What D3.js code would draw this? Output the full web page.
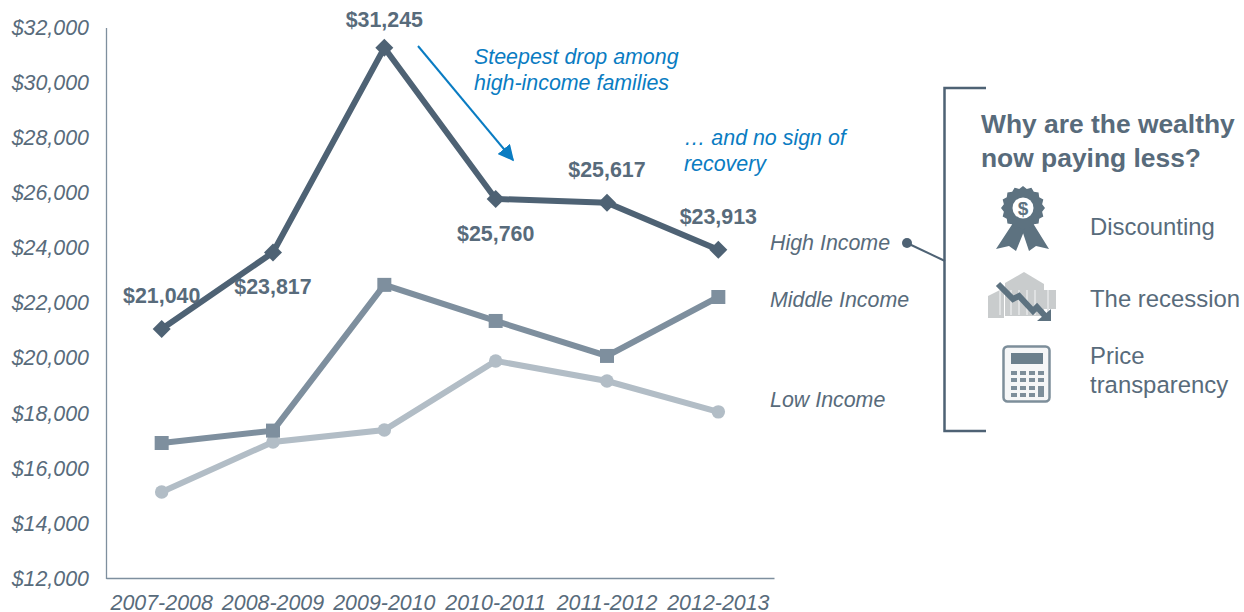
<!DOCTYPE html>
<html>
<head>
<meta charset="utf-8">
<script src="https://cdn.jsdelivr.net/npm/d3@7/dist/d3.min.js"></script>
<style>
html,body{margin:0;padding:0;background:#fff}
text{font-family:"Liberation Sans",Arial,sans-serif}
</style>
</head>
<body>
<svg id="chart" width="1244" height="612"></svg>
<script>
// Average spend per family by income band, academic years 2007-08 to 2012-13
const years = ["2007-2008","2008-2009","2009-2010","2010-2011","2011-2012","2012-2013"];
const highIncome = [21040,23817,31245,25760,25617,23913];
const middleIncome = [16900,17350,22640,21330,20060,22200];
const lowIncome = [15120,16940,17370,19880,19150,18030];
const yTicks = [12000,14000,16000,18000,20000,22000,24000,26000,28000,30000,32000];
const highLabelOffsets = [[0,-26],[0,42],[0,-21],[0,42],[0,-26],[0,-26]];
const reasons = ["Discounting","The recession"];

const DARK="#4e6274", MID="#7e8f9e", LIGHT="#b2bdc6", TEXT="#586b7b", BLUE="#0a7cc2";
const ITALIC_SIZE=21.4;

const svg=d3.select("#chart");
const x=d3.scaleBand().domain(years).range([106,774]);
const cx=d=>x(d)+x.bandwidth()/2;
const y=d3.scaleLinear().domain([12000,32000]).range([578,27]);

// Axes
const yAxis=svg.append("g").attr("transform","translate(106,0.5)")
  .call(d3.axisLeft(y).tickValues(yTicks).tickSize(0).tickPadding(17).tickFormat(d3.format("$,")));
const xAxis=svg.append("g").attr("transform","translate(0,578)")
  .call(d3.axisBottom(x).tickSize(0).tickPadding(17));
[yAxis,xAxis].forEach(a=>{
  a.selectAll("path").attr("stroke",MID).attr("stroke-width",1.3);
  a.selectAll("text").attr("fill",TEXT).style("font-size",ITALIC_SIZE+"px").style("font-style","italic")
   .style("font-family",'"Liberation Sans",Arial,sans-serif');
});

// Income series
const line=d3.line().x((d,i)=>cx(years[i])).y(d=>y(d));
function drawSeries(vals,color,width,symbol,size){
  svg.append("path").attr("d",line(vals)).attr("fill","none").attr("stroke",color)
    .attr("stroke-width",width).attr("stroke-linejoin","miter");
  svg.append("g").selectAll("path").data(vals).join("path")
    .attr("d",d3.symbol(symbol,size))
    .attr("transform",(d,i)=>`translate(${cx(years[i])},${y(d)})`+(symbol===d3.symbolSquare&&color===DARK?" rotate(45)":""))
    .attr("fill",color);
}
drawSeries(lowIncome,LIGHT,6,d3.symbolCircle,143);
drawSeries(middleIncome,MID,6,d3.symbolSquare,196);
drawSeries(highIncome,DARK,6,d3.symbolSquare,162);

// Value labels on the high-income line
svg.append("g").selectAll("text").data(highIncome).join("text")
  .attr("x",(d,i)=>cx(years[i])+highLabelOffsets[i][0])
  .attr("y",(d,i)=>y(d)+highLabelOffsets[i][1])
  .attr("text-anchor","middle").attr("fill",TEXT)
  .attr("font-size",21.4).attr("font-weight","bold")
  .text(d3.format("$,"));

// Series names
[["High Income",highIncome],["Middle Income",middleIncome],["Low Income",lowIncome]].forEach(([name],i)=>{
  svg.append("text").attr("x",770).attr("y",[250,307,407][i])
    .attr("font-size",ITALIC_SIZE).attr("font-style","italic").attr("fill",TEXT).text(name);
});

// Blue callouts
svg.append("defs").append("marker").attr("id","head").attr("viewBox","0 0 10 10")
  .attr("refX",9).attr("refY",5).attr("markerWidth",8).attr("markerHeight",8)
  .attr("orient","auto").attr("markerUnits","strokeWidth")
  .append("path").attr("d","M0,0L10,5L0,10Z").attr("fill",BLUE);
svg.append("line").attr("x1",418).attr("y1",46).attr("x2",513).attr("y2",160)
  .attr("stroke",BLUE).attr("stroke-width",2).attr("marker-end","url(#head)");
[["Steepest drop among",474,64],["high-income families",474,90],["… and no sign of",684,145],["recovery",684,171]]
  .forEach(([t,tx,ty])=>svg.append("text").attr("x",tx).attr("y",ty).attr("fill",BLUE)
    .attr("font-size",ITALIC_SIZE).attr("font-style","italic").text(t));

// Bracket and leader from the high-income label
svg.append("path").attr("d","M986,88H944.5V431H986").attr("fill","none").attr("stroke",DARK).attr("stroke-width",2.5);
svg.append("circle").attr("cx",907).attr("cy",243).attr("r",5).attr("fill",DARK);
svg.append("line").attr("x1",907).attr("y1",243).attr("x2",945).attr("y2",261).attr("stroke",DARK).attr("stroke-width",2);

// Side panel text
[["Why are the wealthy",133],["now paying less?",167]].forEach(([t,ty])=>
  svg.append("text").attr("x",981).attr("y",ty).attr("fill",TEXT).attr("font-size",26.4).attr("font-weight","bold").text(t));
[[reasons[0],235],[reasons[1],307],["Price",364],["transparency",393]].forEach(([t,ty])=>
  svg.append("text").attr("x",1090).attr("y",ty).attr("fill",TEXT).attr("font-size",23.9).text(t));

// Rosette icon
const ros=svg.append("g").attr("transform","translate(1023,208)").attr("fill","#5d7280");
ros.append("path").attr("d","M-8,12L-27,41L-14,38L-7,43L4,16Z");
ros.append("path").attr("d","M8,12L26,41L13,38L6,43L-3,16Z");
const teeth=d3.range(32).map(i=>{const r=i%2?19.5:22,a=i*Math.PI/16;return [r*Math.cos(a),r*Math.sin(a)];});
ros.append("path").attr("d",d3.line().curve(d3.curveLinearClosed)(teeth));
ros.append("circle").attr("r",10.5).attr("fill","#fff");
ros.append("text").attr("text-anchor","middle").attr("y",7).attr("font-size",19).attr("font-weight","bold").text("$");

// Recession icon: grey bank with a falling arrow across it
const bank=svg.append("g").attr("fill","#c9cccd");
bank.append("path").attr("d","M988,296L1004,288V318H988Z");
bank.append("path").attr("d","M1005,283L1024,272L1044,284V316H1005Z");
bank.append("path").attr("d","M1044,290H1056V309H1044Z");
svg.append("g").attr("stroke","#dfe1e2").attr("stroke-width",2)
  .selectAll("line").data([1000,1011,1019,1027,1035,1048]).join("line")
  .attr("x1",d=>d).attr("x2",d=>d).attr("y1",290).attr("y2",315);
svg.append("path").attr("d","M998,284L1013,299L1019,296L1033,311L1037,307L1046,317")
  .attr("fill","none").attr("stroke","#5d7280").attr("stroke-width",6);
svg.append("path").attr("d","M1037,321L1051,309V321Z").attr("fill","#5d7280");

// Calculator icon
const calc=svg.append("g").attr("transform","translate(1002,345)");
calc.append("rect").attr("x",1.5).attr("y",1.5).attr("width",46).attr("height",55).attr("rx",4)
  .attr("fill","#f5f6f7").attr("stroke","#7d8e9a").attr("stroke-width",2.5);
calc.append("rect").attr("x",9).attr("y",8).attr("width",32).attr("height",11).attr("fill","#6b7f8c");
const keyX=[9,18,27,36], keyY=[26,33,41,48];
keyY.forEach((ky,r)=>keyX.forEach((kx,c)=>{
  if(c===3&&r>=2) return;
  calc.append("rect").attr("x",kx).attr("y",ky).attr("width",6).attr("height",4).attr("fill","#7d8e9a");
}));
calc.append("rect").attr("x",36).attr("y",41).attr("width",6).attr("height",11).attr("fill","#7d8e9a");
</script>
</body>
</html>
